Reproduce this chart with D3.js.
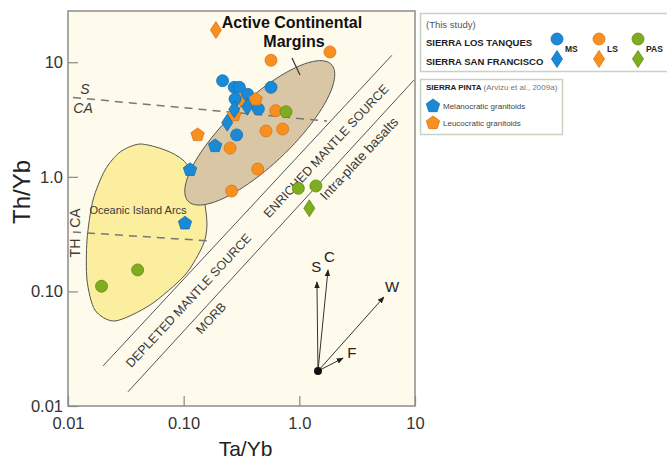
<!DOCTYPE html>
<html>
<head>
<meta charset="utf-8">
<script src="https://cdn.jsdelivr.net/npm/d3@7"></script>
<style>
  body { margin: 0; background: #fff; overflow: hidden; }
  svg { display: block; font-family: "Liberation Sans", Arial, Helvetica, sans-serif; }
</style>
</head>
<body>
<svg id="chart" width="667" height="460"></svg>
<script>
// axis ticks
const xTicks = [0.01, 0.1, 1, 10];
const xTickLabels = ['0.01', '0.10', '1.0', '10'];
const yTicks = [0.01, 0.1, 1, 10];
const yTickLabels = ['0.01', '0.10', '1.0', '10'];

// samples [Ta/Yb, Th/Yb]
const msCircles = [[0.217, 6.90], [0.274, 6.04], [0.303, 6.04], [0.358, 5.25], [0.569, 6.04], [0.278, 4.78], [0.442, 3.91], [0.287, 2.32]];
const msDiamonds = [[0.274, 3.88], [0.355, 4.09], [0.238, 2.97]];
const lsCircles = [[0.569, 10.4], [1.84, 12.3], [0.313, 4.68], [0.625, 3.78], [0.515, 2.51], [0.717, 2.61], [0.252, 1.78], [0.437, 1.17], [0.260, 0.751]];
const lsDiamonds = [[0.190, 19.1]];
const pasCircles = [[0.767, 3.70], [0.98, 0.794], [1.39, 0.832], [0.040, 0.154], [0.0195, 0.111]];
const pasDiamonds = [[1.22, 0.531]];
const melPentagons = [[0.187, 1.86], [0.1135, 1.15], [0.1027, 0.393]];
const leuPentagons = [[0.420, 4.74], [0.132, 2.32], [0.274, 3.46]];

// field boundaries
const upperArray = [[0.0201, 0.0224], [6.31, 11.5]];
const lowerArray = [[0.033, 0.0133], [9.77, 6.97]];
const scaLine = [[0.01105, 4.92], [1.735, 3.07]];
const thcaLine = [[0.01105, 0.330], [0.176, 0.275]];
const islandArcs = [[0.0419, 1.933], [0.069, 1.714], [0.0987, 1.402], [0.128, 0.976], [0.150, 0.627], [0.159, 0.380], [0.147, 0.254], [0.1027, 0.139], [0.0512, 0.0761], [0.0255, 0.0552], [0.0171, 0.0688], [0.0146, 0.1257], [0.0146, 0.281], [0.01645, 0.627], [0.0209, 1.146], [0.0282, 1.646]];
const acmEllipse = { center: [0.455, 2.42], a: 0.86, b: 0.28, angle: 44 };

// vectors from a common origin
const vectorOrigin = [1.45, 0.0202];
const vectors = [
  { name: 'S', tip: [1.42, 0.121], label: [1.40, 0.163] },
  { name: 'C', tip: [1.77, 0.154], label: [1.82, 0.200] },
  { name: 'W', tip: [5.39, 0.0894], label: [6.35, 0.109] },
  { name: 'F', tip: [2.39, 0.0262], label: [2.85, 0.029] },
];

const colors = { ms: '#1b8ad6', ls: '#f7901e', pas: '#80ad1f' };
const strokes = { ms: '#1170b4', ls: '#d9731a', pas: '#5e8c12' };

const svg = d3.select('#chart');
const margin = { left: 68, right: 252, top: 11, bottom: 54 };
const width = +svg.attr('width');
const height = +svg.attr('height');
const innerWidth = width - margin.left - margin.right;
const innerHeight = height - margin.top - margin.bottom;

const x = d3.scaleLog().domain([0.01, 10]).range([margin.left, margin.left + innerWidth]);
const y = d3.scaleLog().domain([0.01, 28]).range([margin.top + innerHeight, margin.top]);
const pt = (d) => [x(d[0]), y(d[1])];

// plot background
svg.append('rect')
  .attr('x', margin.left).attr('y', margin.top)
  .attr('width', innerWidth).attr('height', innerHeight)
  .attr('fill', '#fefbec');

// island arc field
svg.append('path')
  .attr('d', d3.line().curve(d3.curveCardinalClosed.tension(0.2))(islandArcs.map(pt)))
  .attr('fill', '#fbee9e')
  .attr('stroke', '#555')
  .attr('stroke-width', 1);

// active continental margin ellipse (drawn in log space)
const ellPts = d3.range(0, 360, 4).map((deg) => {
  const t = deg * Math.PI / 180;
  const th = acmEllipse.angle * Math.PI / 180;
  const cx = Math.log10(acmEllipse.center[0]);
  const cy = Math.log10(acmEllipse.center[1]);
  const lx = cx + acmEllipse.a * Math.cos(t) * Math.cos(th) - acmEllipse.b * Math.sin(t) * Math.sin(th);
  const ly = cy + acmEllipse.a * Math.cos(t) * Math.sin(th) + acmEllipse.b * Math.sin(t) * Math.cos(th);
  return pt([Math.pow(10, lx), Math.pow(10, ly)]);
});
svg.append('path')
  .attr('d', d3.line().curve(d3.curveLinearClosed)(ellPts))
  .attr('fill', '#d9c6a5')
  .attr('stroke', '#555')
  .attr('stroke-width', 1);

// mantle array lines
[upperArray, lowerArray].forEach((l) => {
  svg.append('path').attr('d', d3.line()(l.map(pt)))
    .attr('stroke', '#555').attr('stroke-width', 1).attr('fill', 'none');
});

// dashed dividers
[scaLine, thcaLine].forEach((l) => {
  svg.append('path').attr('d', d3.line()(l.map(pt)))
    .attr('stroke', '#777').attr('stroke-width', 1.5)
    .attr('stroke-dasharray', '8,6').attr('fill', 'none');
});

// ACM pointer
svg.append('path').attr('d', d3.line()([[0.864, 10.9], [1.013, 7.73]].map(pt)))
  .attr('stroke', '#333').attr('stroke-width', 1.2);

// field labels
const plainLabels = [
  { text: 'Oceanic Island Arcs', at: [0.0403, 0.513], size: 11, rot: 0 },
  { text: 'ENRICHED MANTLE SOURCE', at: [1.70, 1.68], size: 12.5, rot: -47 },
  { text: 'DEPLETED MANTLE SOURCE', at: [0.110, 0.0833], size: 12.5, rot: -47 },
  { text: 'MORB', at: [0.172, 0.0586], size: 12.5, rot: -47 },
  { text: 'Intra-plate basalts', at: [3.28, 1.444], size: 13.5, rot: -47 },
  { text: 'TH', at: [0.0115, 0.239], size: 14, rot: -90 },
  { text: 'CA', at: [0.0115, 0.437], size: 14, rot: -90 },
];
plainLabels.forEach((d) => {
  const p = pt(d.at);
  svg.append('text')
    .attr('transform', `translate(${p[0]},${p[1]}) rotate(${d.rot})`)
    .attr('text-anchor', 'middle')
    .attr('dy', '0.35em')
    .attr('font-size', d.size)
    .attr('fill', '#3a3a3a')
    .text(d.text);
});
[{ text: 'S', at: [0.01403, 5.84] }, { text: 'CA', at: [0.01349, 3.98] }].forEach((d) => {
  const p = pt(d.at);
  svg.append('text').attr('x', p[0]).attr('y', p[1])
    .attr('text-anchor', 'middle').attr('dy', '0.35em')
    .attr('font-size', 14).attr('font-style', 'italic').attr('fill', '#3a3a3a')
    .text(d.text);
});
[{ text: 'Active Continental', at: [0.864, 22.4] }, { text: 'Margins', at: [0.899, 15.3] }].forEach((d) => {
  const p = pt(d.at);
  svg.append('text').attr('x', p[0]).attr('y', p[1])
    .attr('text-anchor', 'middle').attr('dy', '0.35em')
    .attr('font-size', 16).attr('font-weight', 'bold').attr('fill', '#111')
    .text(d.text);
});

// vectors
svg.append('defs').append('marker')
  .attr('id', 'arrow').attr('viewBox', '0 0 10 10')
  .attr('refX', 9).attr('refY', 5)
  .attr('markerWidth', 7).attr('markerHeight', 7)
  .attr('orient', 'auto')
  .append('path').attr('d', 'M0,1 L10,5 L0,9 Z').attr('fill', '#222');
vectors.forEach((v) => {
  svg.append('path').attr('d', d3.line()([vectorOrigin, v.tip].map(pt)))
    .attr('stroke', '#333').attr('stroke-width', 1)
    .attr('marker-end', 'url(#arrow)');
  const p = pt(v.label);
  svg.append('text').attr('x', p[0]).attr('y', p[1])
    .attr('text-anchor', 'middle').attr('dy', '0.35em')
    .attr('font-size', 15).attr('fill', '#222').text(v.name);
});
svg.append('circle').attr('cx', x(vectorOrigin[0])).attr('cy', y(vectorOrigin[1]))
  .attr('r', 4).attr('fill', '#111');

// symbol paths
const diamondPath = 'M0,-8.5 L5.5,0 L0,8.5 L-5.5,0 Z';
const pentagonPath = d3.range(5).map((i) => {
  const a = -Math.PI / 2 + i * 2 * Math.PI / 5;
  return `${i ? 'L' : 'M'}${(7 * Math.cos(a)).toFixed(2)},${(7 * Math.sin(a)).toFixed(2)}`;
}).join('') + 'Z';
const circlePath = d3.symbol(d3.symbolCircle, Math.PI * 36)();

function drawSeries(data, path, key) {
  svg.append('g').selectAll('path')
    .data(data)
    .enter()
    .append('path')
    .attr('transform', (d) => `translate(${x(d[0])},${y(d[1])})`)
    .attr('d', path)
    .attr('fill', colors[key])
    .attr('stroke', strokes[key])
    .attr('stroke-width', 0.8);
}
drawSeries(lsCircles, circlePath, 'ls');
drawSeries(msCircles, circlePath, 'ms');
drawSeries(pasCircles, circlePath, 'pas');
drawSeries(leuPentagons, pentagonPath, 'ls');
drawSeries(melPentagons, pentagonPath, 'ms');
drawSeries(msDiamonds, diamondPath, 'ms');
drawSeries(lsDiamonds, diamondPath, 'ls');
drawSeries(pasDiamonds, diamondPath, 'pas');

// axes
const xAxis = d3.axisBottom(x).tickValues(xTicks)
  .tickFormat((d, i) => xTickLabels[i]).tickSizeInner(-10).tickSizeOuter(0).tickPadding(11);
const yAxis = d3.axisLeft(y).tickValues(yTicks)
  .tickFormat((d, i) => yTickLabels[i]).tickSizeInner(-10).tickSizeOuter(0).tickPadding(5);
const xg = svg.append('g').attr('transform', `translate(0,${margin.top + innerHeight})`).call(xAxis);
const yg = svg.append('g').attr('transform', `translate(${margin.left},0)`).call(yAxis);
[xg, yg].forEach((g) => {
  g.selectAll('.domain').remove();
  g.selectAll('line').attr('stroke', '#888').attr('stroke-width', 1.2);
  g.selectAll('text').attr('font-size', 16.5).attr('fill', '#333')
    .attr('font-family', '"Liberation Sans", Arial, sans-serif');
});

// frame
svg.append('rect')
  .attr('x', margin.left).attr('y', margin.top)
  .attr('width', innerWidth).attr('height', innerHeight)
  .attr('fill', 'none').attr('stroke', '#8c8c8c').attr('stroke-width', 1.5);

// axis titles
svg.append('text')
  .attr('x', margin.left + innerWidth / 2 + 4).attr('y', 449)
  .attr('text-anchor', 'middle').attr('dy', '0.35em')
  .attr('font-size', 21).attr('fill', '#222').text('Ta/Yb');
svg.append('text')
  .attr('transform', `translate(22,192) rotate(-90)`)
  .attr('text-anchor', 'middle').attr('dy', '0.35em')
  .attr('font-size', 24).attr('fill', '#222').text('Th/Yb');

// legend
const legend = svg.append('g');
legend.append('rect').attr('x', 420.5).attr('y', 13.5).attr('width', 252).attr('height', 58)
  .attr('fill', '#fff').attr('stroke', '#c6d3c0').attr('stroke-width', 1.5);
legend.append('rect').attr('x', 420.5).attr('y', 79.5).attr('width', 142).attr('height', 55)
  .attr('fill', '#fff').attr('stroke', '#c6d3c0').attr('stroke-width', 1.5);
legend.append('text').attr('x', 426).attr('y', 27.5).attr('font-size', 9.5).attr('fill', '#555').text('(This study)');
legend.append('text').attr('x', 426).attr('y', 45.5).attr('font-size', 9.5).attr('font-weight', 'bold').attr('fill', '#222').text('SIERRA LOS TANQUES');
legend.append('text').attr('x', 426).attr('y', 64.5).attr('font-size', 9.5).attr('font-weight', 'bold').attr('fill', '#222').text('SIERRA SAN FRANCISCO');
const legendKeys = [
  { key: 'ms', label: 'MS', cx: 557 },
  { key: 'ls', label: 'LS', cx: 599 },
  { key: 'pas', label: 'PAS', cx: 638 },
];
legendKeys.forEach((k) => {
  legend.append('path').attr('transform', `translate(${k.cx},39)`).attr('d', circlePath)
    .attr('fill', colors[k.key]).attr('stroke', strokes[k.key]).attr('stroke-width', 0.8);
  legend.append('path').attr('transform', `translate(${k.cx},59)`).attr('d', diamondPath)
    .attr('fill', colors[k.key]).attr('stroke', strokes[k.key]).attr('stroke-width', 0.8);
  legend.append('text').attr('x', k.cx + 8).attr('y', 52).attr('font-size', 8.5)
    .attr('font-weight', 'bold').attr('fill', '#222').text(k.label);
});
const pinta = legend.append('text').attr('x', 426).attr('y', 90).attr('font-size', 8).attr('fill', '#222');
pinta.append('tspan').attr('font-weight', 'bold').text('SIERRA PINTA ');
pinta.append('tspan').attr('fill', '#777').text('(Arvizu et al., 2009a)');
[{ key: 'ms', label: 'Melanocratic granitoids', cy: 106 }, { key: 'ls', label: 'Leucocratic granitoids', cy: 123 }].forEach((k) => {
  legend.append('path').attr('transform', `translate(433,${k.cy})`).attr('d', pentagonPath)
    .attr('fill', colors[k.key]).attr('stroke', strokes[k.key]).attr('stroke-width', 0.8);
  legend.append('text').attr('x', 443).attr('y', k.cy + 3).attr('font-size', 8)
    .attr('fill', '#444').text(k.label);
});
</script>
</body>
</html>
